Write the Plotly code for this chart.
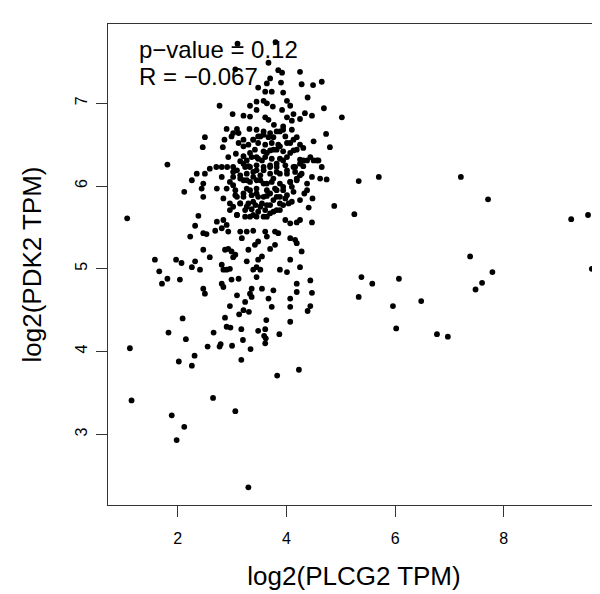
import plotly.graph_objects as go

# left sparse points
left_x = [1.81, 2.12, 1.07, 1.58, 1.97, 2.07, 1.66, 1.81, 1.71, 2.04,
          2.09, 1.83, 2.15, 1.12, 1.15, 1.89, 2.12, 1.98, 2.02]
left_y = [6.26, 5.93, 5.61, 5.11, 5.11, 5.07, 4.97, 4.88, 4.82, 4.87,
          4.40, 4.23, 4.15, 4.04, 3.41, 3.23, 3.09, 2.93, 3.88]

# upper left of the cluster
upleft_x = [3.10, 3.06, 2.77, 3.01, 3.21, 2.90, 3.09, 3.12, 3.32, 2.50,
            2.86, 2.99, 3.21, 2.46, 2.93, 3.07, 3.21, 3.15, 3.27, 2.71,
            2.81, 2.91, 3.02, 2.59, 3.24, 3.30, 2.83]
upleft_y = [7.72, 7.41, 6.97, 6.87, 6.85, 6.69, 6.69, 6.64, 6.69, 6.59,
            6.56, 6.60, 6.56, 6.47, 6.35, 6.39, 6.36, 6.30, 6.31, 6.23,
            6.23, 6.23, 6.23, 6.21, 6.23, 6.24, 6.47]

# upper right of the cluster
upright_x = [3.80, 3.67, 3.85, 3.92, 4.25, 3.70, 3.64, 3.90, 4.28, 4.49,
             4.65, 3.48, 3.61, 3.73, 3.94, 4.39, 3.45, 3.58, 3.64, 4.01,
             3.33, 3.75, 3.92, 4.07, 4.69, 3.45, 4.13, 4.34, 4.47, 4.25,
             3.61, 3.67, 4.01, 4.10, 5.02, 3.33, 3.77, 3.45, 3.58, 3.94,
             4.10, 3.52, 3.67, 3.76, 3.88, 3.98, 4.19, 4.73, 4.50, 3.39,
             3.48, 3.61, 3.73, 3.85, 4.07, 4.25, 4.80, 4.31, 3.42, 3.58,
             3.70, 3.82, 3.94, 4.13, 3.36, 3.48, 3.61, 3.73, 3.88, 4.01,
             4.25, 4.38, 4.50, 4.59, 4.65, 3.45, 3.58, 3.70, 3.82, 3.98,
             4.16, 4.31]
upright_y = [7.74, 7.49, 7.40, 7.37, 7.38, 7.30, 7.24, 7.25, 7.23, 7.22,
             7.26, 7.19, 7.14, 7.14, 7.13, 7.07, 7.02, 7.03, 7.00, 7.03,
             6.97, 6.96, 6.92, 6.97, 6.94, 6.92, 6.87, 6.88, 6.85, 6.81,
             6.83, 6.80, 6.83, 6.79, 6.83, 6.84, 6.74, 6.68, 6.66, 6.72,
             6.68, 6.60, 6.59, 6.59, 6.66, 6.60, 6.59, 6.63, 6.54, 6.56,
             6.52, 6.50, 6.52, 6.50, 6.52, 6.50, 6.47, 6.46, 6.44, 6.42,
             6.43, 6.44, 6.42, 6.43, 6.35, 6.33, 6.35, 6.33, 6.33, 6.35,
             6.32, 6.31, 6.31, 6.31, 6.23, 6.25, 6.23, 6.25, 6.23, 6.25,
             6.23, 6.24]

# dense core (overlapping dots)
core_x = [3.02, 3.12, 3.21, 3.30, 3.39, 3.48, 3.58, 3.70, 3.82, 3.94,
          3.33, 3.45, 3.55, 3.64, 3.76, 3.88, 4.01, 4.13, 4.19, 4.07,
          3.94, 3.82, 3.70, 3.58, 3.45, 3.33, 3.21, 3.09, 3.02, 3.15,
          3.27, 3.39, 3.52, 3.64, 3.76, 3.88, 4.01, 4.13, 4.25, 4.31,
          4.44, 4.56, 4.28, 4.19, 4.07, 3.94, 3.82, 3.70, 3.58, 3.45,
          3.33, 3.21, 3.09, 3.02, 3.15, 3.27, 3.39, 3.52, 3.64, 3.76,
          3.88, 4.01, 4.13, 4.10, 3.94, 3.82, 3.70, 3.58, 3.39, 3.24,
          3.09]
core_y = [6.64, 6.52, 6.48, 6.50, 6.56, 6.60, 6.62, 6.64, 6.66, 6.68,
          6.40, 6.35, 6.31, 6.40, 6.44, 6.48, 6.52, 6.56, 6.44, 6.40,
          6.31, 6.27, 6.23, 6.19, 6.19, 6.23, 6.27, 6.19, 6.11, 6.09,
          6.07, 6.11, 6.07, 6.03, 6.09, 6.15, 6.19, 6.23, 6.27, 6.31,
          6.35, 6.31, 6.15, 6.09, 6.05, 5.99, 5.95, 5.91, 5.87, 5.91,
          5.95, 5.91, 5.87, 5.75, 5.79, 5.75, 5.81, 5.75, 5.77, 5.83,
          5.87, 5.89, 5.93, 5.81, 5.77, 5.71, 5.67, 5.63, 5.65, 5.63,
          5.65]

# middle of the cluster
mid_x = [2.35, 2.50, 2.81, 3.02, 3.15, 3.27, 3.39, 3.52, 3.70, 3.82,
         4.01, 4.16, 4.25, 4.47, 4.62, 2.26, 2.47, 2.96, 3.21, 3.33,
         3.45, 3.58, 3.73, 3.88, 4.07, 4.19, 4.38, 3.02, 2.44, 2.72,
         2.90, 3.06, 3.27, 3.45, 3.64, 3.79, 3.94, 4.10, 4.38, 2.47,
         2.84, 3.06, 3.21, 3.36, 3.48, 3.64, 3.82, 3.98, 4.25, 2.96,
         3.15, 3.30, 3.43, 3.55, 3.70, 3.88, 4.04, 2.96, 3.24, 3.36,
         3.48, 3.61, 3.76, 3.88, 2.38, 3.09, 3.33, 3.45, 3.64, 3.98,
         4.19, 4.25, 4.47, 4.07, 2.72, 2.84, 2.90, 2.32, 2.69, 2.81,
         2.93, 2.47, 2.53, 3.15, 3.27, 3.39, 3.61, 3.79, 3.85, 2.23,
         3.18, 3.64, 4.07, 4.16, 3.48, 3.42, 3.79, 4.19, 2.47, 2.87,
         2.93, 2.99, 3.06, 3.30, 3.70, 3.55, 3.48, 2.59, 3.02, 2.32,
         2.26, 3.27, 3.45, 4.07, 4.25, 2.81, 2.84, 2.90, 2.96, 3.39,
         3.52, 2.41, 3.88, 4.01, 3.45, 3.12, 2.99, 2.81, 2.84, 2.47,
         2.50, 3.36, 3.55, 3.76, 4.19, 4.19, 4.44, 3.09, 3.33, 3.36,
         3.67, 4.07, 2.96, 3.24, 3.21, 3.73, 4.07, 4.47, 4.44, 4.74,
         4.33, 4.48, 4.41, 4.28]
mid_y = [6.15, 6.15, 6.11, 6.17, 6.13, 6.15, 6.17, 6.13, 6.15, 6.17,
         6.15, 6.17, 6.13, 6.11, 6.09, 6.07, 6.03, 6.05, 6.07, 6.05,
         6.07, 6.03, 6.05, 6.03, 6.05, 6.07, 6.03, 6.01, 5.97, 5.97,
         5.97, 5.95, 5.97, 5.97, 5.95, 5.97, 5.95, 5.99, 5.95, 5.87,
         5.85, 5.89, 5.87, 5.89, 5.87, 5.88, 5.87, 5.85, 5.83, 5.79,
         5.79, 5.79, 5.77, 5.79, 5.77, 5.79, 5.79, 5.71, 5.71, 5.72,
         5.69, 5.71, 5.69, 5.71, 5.64, 5.65, 5.63, 5.63, 5.63, 5.59,
         5.56, 5.59, 5.56, 5.55, 5.57, 5.59, 5.53, 5.52, 5.46, 5.49,
         5.45, 5.43, 5.42, 5.45, 5.45, 5.46, 5.45, 5.45, 5.43, 5.39,
         5.37, 5.39, 5.37, 5.35, 5.33, 5.29, 5.29, 5.31, 5.23, 5.23,
         5.24, 5.21, 5.17, 5.23, 5.24, 5.15, 5.11, 5.14, 5.14, 5.09,
         5.02, 5.09, 5.02, 5.11, 5.02, 5.05, 4.99, 4.99, 5.00, 4.99,
         4.99, 4.99, 4.99, 4.96, 4.90, 4.88, 4.87, 4.82, 4.78, 4.76,
         4.70, 4.76, 4.76, 4.74, 4.82, 4.72, 4.86, 4.68, 4.70, 4.66,
         4.64, 4.64, 4.55, 4.60, 4.50, 4.54, 4.54, 4.71, 4.55, 6.08,
         5.91, 5.85, 5.74, 5.21]

# lower part of the cluster
low_x = [2.87, 3.13, 3.31, 4.39, 3.63, 4.07, 2.90, 2.97, 3.17, 3.48,
         3.61, 2.66, 3.87, 3.59, 3.62, 3.61, 3.20, 2.79, 2.77, 2.55,
         3.00, 3.34, 2.31, 2.26, 3.17, 4.23, 3.83, 2.65, 3.06, 3.30]
low_y = [4.41, 4.45, 4.48, 4.49, 4.38, 4.36, 4.30, 4.29, 4.27, 4.25,
         4.27, 4.23, 4.21, 4.19, 4.16, 4.10, 4.14, 4.09, 4.06, 4.06,
         4.07, 4.03, 3.95, 3.83, 3.90, 3.78, 3.71, 3.44, 3.28, 2.36]

# right sparse points
right_x = [5.33, 5.70, 4.88, 5.25, 5.38, 5.58, 6.07, 5.33, 5.96, 6.48,
           6.02, 7.21, 7.71, 9.24, 9.55, 9.62, 7.38, 7.79, 7.60, 7.48,
           6.77, 6.97]
right_y = [6.06, 6.11, 5.76, 5.66, 4.90, 4.82, 4.88, 4.66, 4.55, 4.61,
           4.28, 6.11, 5.84, 5.60, 5.65, 5.00, 5.15, 4.96, 4.83, 4.75,
           4.21, 4.18]

plcg2 = left_x + upleft_x + upright_x + core_x + mid_x + low_x + right_x
pdk2 = left_y + upleft_y + upright_y + core_y + mid_y + low_y + right_y

x_ticks = [2, 4, 6, 8]
y_ticks = [3, 4, 5, 6, 7]
stats_text = ["p\u2212value = 0.12", "R = \u22120.067"]

fig = go.Figure()
fig.add_trace(go.Scatter(
    x=plcg2, y=pdk2, mode='markers',
    marker=dict(color='black', size=5.8),
    hoverinfo='skip'
))

# texte des stats en haut a gauche
fig.add_annotation(x=1.25, y=7.644, text=stats_text[0], showarrow=False,
                   xanchor='left', yanchor='middle', font=dict(size=24, color='black'))
fig.add_annotation(x=1.25, y=7.318, text=stats_text[1], showarrow=False,
                   xanchor='left', yanchor='middle', font=dict(size=24, color='black'))

# la page a une marge de 8px, donc figure un peu plus petite
fig.update_layout(
    width=592, height=586,
    margin=dict(l=100, r=0, t=16, b=89),
    plot_bgcolor='white', paper_bgcolor='white',
    showlegend=False,
    font=dict(family='Liberation Sans, Arial, sans-serif', color='black'),
    xaxis=dict(
        range=[0.717, 9.77], tickvals=x_ticks, ticks='outside', ticklen=11,
        tickcolor='#333333', showline=True, mirror=True, linecolor='#333333',
        showgrid=False, zeroline=False, tickfont=dict(size=16),
        ticklabelstandoff=8,
        title=dict(text='log2(PLCG2 TPM)', font=dict(size=26), standoff=20)
    ),
    yaxis=dict(
        range=[2.146, 7.958], tickvals=y_ticks, ticks='outside', ticklen=11,
        tickcolor='#333333', showline=True, mirror=False, linecolor='#333333',
        showgrid=False, zeroline=False, tickfont=dict(size=16), tickangle=-90,
        ticklabelstandoff=3,
        title=dict(text='log2(PDK2 TPM)', font=dict(size=26), standoff=23)
    )
)

fig.write_html("out.html")
